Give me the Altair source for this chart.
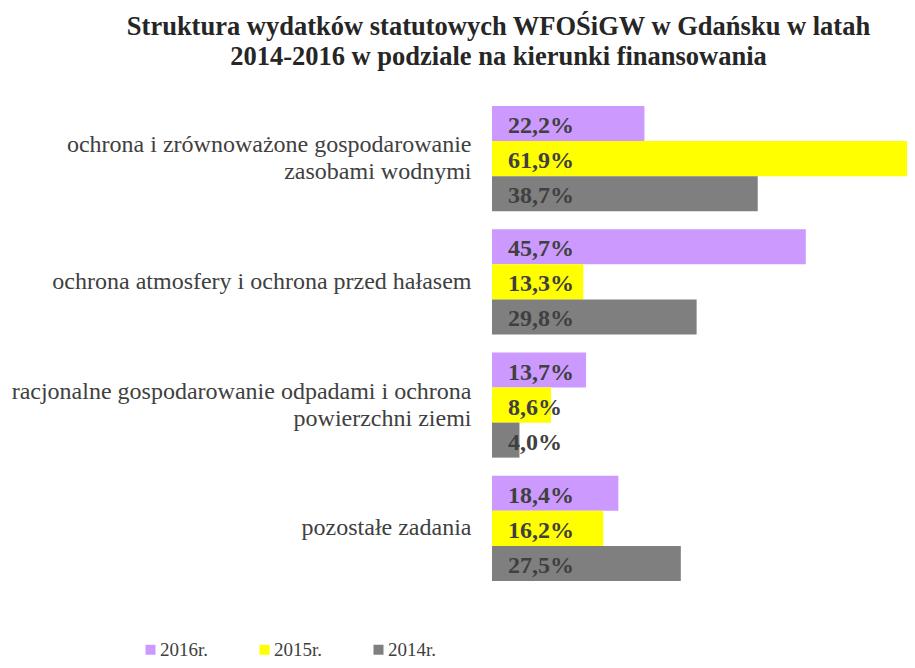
import altair as alt
import pandas as pd

categories = [
    "ochrona i zrównoważone gospodarowanie zasobami wodnymi",
    "ochrona atmosfery i ochrona przed hałasem",
    "racjonalne gospodarowanie odpadami i ochrona powierzchni ziemi",
    "pozostałe zadania",
]
NB = "\u00a0"
category_lines = [
    "ochrona i zrównoważone gospodarowanie|zasobami wodnymi" + NB * 18,
    "ochrona atmosfery i ochrona przed hałasem",
    "racjonalne gospodarowanie odpadami i ochrona|powierzchni ziemi" + NB * 23,
    "pozostałe zadania",
]
series = ["2016r.", "2015r.", "2014r."]
v2016 = [22.2, 45.7, 13.7, 18.4]
v2015 = [61.9, 13.3, 8.6, 16.2]
v2014 = [38.7, 29.8, 4.0, 27.5]
colors = ["#CC99FF", "#FFFF00", "#7F7F7F"]

rows = []
for vals, s in zip([v2016, v2015, v2014], series):
    for c, v in zip(categories, vals):
        rows.append({"kat": c, "rok": s, "v": v})
df = pd.DataFrame(rows)

label_map = "{" + ",".join(
    f"'{c}': '{l}'" for c, l in zip(categories, category_lines)
) + "}"

FONT = "Liberation Serif"
LH = 27

y = alt.Y(
    "kat:N",
    sort=categories,
    title=None,
    scale=alt.Scale(paddingInner=0.148, paddingOuter=0.074),
    axis=alt.Axis(
        domain=False,
        ticks=False,
        labelFont=FONT,
        labelFontSize=24,
        labelColor="#404040",
        labelPadding=21,
        labelLimit=700,
        labelLineHeight=LH,
        labelExpr=f"split({label_map}[datum.label], '|')",
        labelOffset={
            "condition": {
                "test": f"indexof({label_map}[datum.value], '|') >= 0",
                "value": -LH / 2,
            },
            "value": 0,
        },
    ),
)
yoff = alt.YOffset("rok:N", sort=series, scale=alt.Scale(paddingInner=0, paddingOuter=0))
xscale = alt.Scale(domain=[0, 60.44], nice=False, zero=True)
x = alt.X("v:Q", title=None, axis=None, scale=xscale)

bars = alt.Chart(df).mark_bar(clip=True).encode(
    y=y,
    yOffset=yoff,
    x=x,
    color=alt.Color(
        "rok:N",
        sort=series,
        scale=alt.Scale(domain=series, range=colors),
        legend=alt.Legend(
            title=None,
            orient="none",
            legendX=-351,
            legendY=543,
            direction="horizontal",
            columns=3,
            symbolType="square",
            symbolSize=100,
            symbolStrokeWidth=0,
            labelFont=FONT,
            labelFontSize=19,
            labelColor="#404040",
            labelOffset=0,
            columnPadding=46,
        ),
    ),
)

text = alt.Chart(df).transform_calculate(
    lab="replace(format(datum.v, '.1f'), '.', ',') + '%'"
).mark_text(
    align="left", baseline="middle", dx=16, dy=2.5, font=FONT, fontSize=24,
    fontWeight="bold", color="#404040"
).encode(
    y=y,
    yOffset=yoff,
    x=alt.datum(0, scale=xscale),
    text="lab:N",
)

chart = alt.layer(bars, text).properties(
    width=415,
    height=493,
    autosize=alt.AutoSizeParams(type="none"),
    padding={"left": 484, "top": 89, "right": 0, "bottom": 70},
    title=alt.TitleParams(
        ["Struktura wydatków statutowych WFOŚiGW w Gdańsku w latah",
         "2014-2016 w podziale na kierunki finansowania"],
        font=FONT,
        fontSize=26.5,
        fontWeight="bold",
        color="#262626",
        anchor="middle",
        dx=-201,
        offset=27,
        lineHeight=29.5,
    ),
).configure_view(stroke=None)

chart.save("out.html", embed_options={"renderer": "svg", "actions": False})
